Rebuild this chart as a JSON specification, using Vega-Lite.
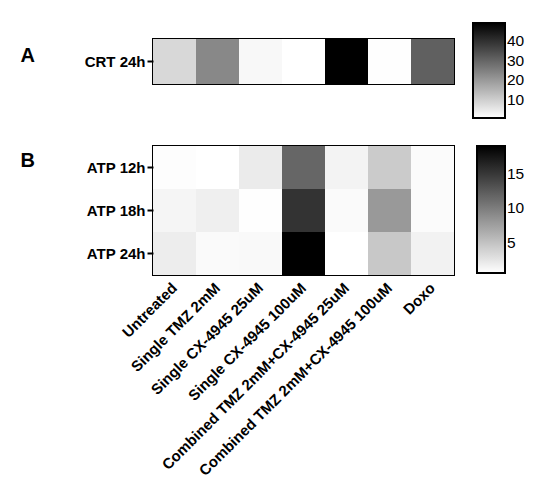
{
  "$schema": "https://vega.github.io/schema/vega-lite/v6.json",
  "padding": {"left": 19, "top": 22, "right": 5, "bottom": 5},
  "background": "white",
  "datasets": {
    "cells": [
      {"panel": "A", "row": "CRT 24h", "treatment": "Untreated", "value": 8.3},
      {"panel": "A", "row": "CRT 24h", "treatment": "Single TMZ 2mM", "value": 23.4},
      {"panel": "A", "row": "CRT 24h", "treatment": "Single CX-4945 25uM", "value": 2.2},
      {"panel": "A", "row": "CRT 24h", "treatment": "Single CX-4945 100uM", "value": 0.9},
      {"panel": "A", "row": "CRT 24h", "treatment": "Combined TMZ 2mM+CX-4945 25uM", "value": 49},
      {"panel": "A", "row": "CRT 24h", "treatment": "Combined TMZ 2mM+CX-4945 100uM", "value": 1.0},
      {"panel": "A", "row": "CRT 24h", "treatment": "Doxo", "value": 30.9},
      {"panel": "B", "row": "ATP 12h", "treatment": "Untreated", "value": 0.7},
      {"panel": "B", "row": "ATP 12h", "treatment": "Single TMZ 2mM", "value": 0.55},
      {"panel": "B", "row": "ATP 12h", "treatment": "Single CX-4945 25uM", "value": 2.0},
      {"panel": "B", "row": "ATP 12h", "treatment": "Single CX-4945 100uM", "value": 11.7},
      {"panel": "B", "row": "ATP 12h", "treatment": "Combined TMZ 2mM+CX-4945 25uM", "value": 1.4},
      {"panel": "B", "row": "ATP 12h", "treatment": "Combined TMZ 2mM+CX-4945 100uM", "value": 4.3},
      {"panel": "B", "row": "ATP 12h", "treatment": "Doxo", "value": 0.85},
      {"panel": "B", "row": "ATP 18h", "treatment": "Untreated", "value": 1.3},
      {"panel": "B", "row": "ATP 18h", "treatment": "Single TMZ 2mM", "value": 1.7},
      {"panel": "B", "row": "ATP 18h", "treatment": "Single CX-4945 25uM", "value": 0.6},
      {"panel": "B", "row": "ATP 18h", "treatment": "Single CX-4945 100uM", "value": 15.4},
      {"panel": "B", "row": "ATP 18h", "treatment": "Combined TMZ 2mM+CX-4945 25uM", "value": 0.9},
      {"panel": "B", "row": "ATP 18h", "treatment": "Combined TMZ 2mM+CX-4945 100uM", "value": 8.0},
      {"panel": "B", "row": "ATP 18h", "treatment": "Doxo", "value": 0.85},
      {"panel": "B", "row": "ATP 24h", "treatment": "Untreated", "value": 1.85},
      {"panel": "B", "row": "ATP 24h", "treatment": "Single TMZ 2mM", "value": 0.9},
      {"panel": "B", "row": "ATP 24h", "treatment": "Single CX-4945 25uM", "value": 1.0},
      {"panel": "B", "row": "ATP 24h", "treatment": "Single CX-4945 100uM", "value": 19.1},
      {"panel": "B", "row": "ATP 24h", "treatment": "Combined TMZ 2mM+CX-4945 25uM", "value": 0.55},
      {"panel": "B", "row": "ATP 24h", "treatment": "Combined TMZ 2mM+CX-4945 100uM", "value": 4.55},
      {"panel": "B", "row": "ATP 24h", "treatment": "Doxo", "value": 1.5}
    ]
  },
  "vconcat": [
    {
      "width": 301,
      "height": 45,
      "data": {"name": "cells"},
      "transform": [{"filter": "datum.panel === 'A'"}],
      "mark": {"type": "rect"},
      "encoding": {
        "x": {
          "field": "treatment", "type": "nominal",
          "sort": ["Untreated", "Single TMZ 2mM", "Single CX-4945 25uM", "Single CX-4945 100uM", "Combined TMZ 2mM+CX-4945 25uM", "Combined TMZ 2mM+CX-4945 100uM", "Doxo"],
          "axis": null
        },
        "y": {
          "field": "row", "type": "nominal",
          "axis": {"title": "A", "titleAngle": 0, "titleX": -133, "titleY": 22, "titleAlign": "left", "titleBaseline": "alphabetic", "titleFontSize": 20}
        },
        "color": {
          "field": "value", "type": "quantitative",
          "scale": {"domain": [0.9, 49], "range": ["#ffffff", "#000000"], "interpolate": "rgb", "zero": false, "nice": false},
          "legend": {"orient": "none", "legendX": 320, "legendY": -16, "gradientLength": 95, "gradientThickness": 32, "values": [10, 20, 30, 40], "title": null}
        }
      }
    },
    {
      "width": 301,
      "height": 129,
      "data": {"name": "cells"},
      "transform": [{"filter": "datum.panel === 'B'"}],
      "mark": {"type": "rect"},
      "encoding": {
        "x": {
          "field": "treatment", "type": "nominal",
          "sort": ["Untreated", "Single TMZ 2mM", "Single CX-4945 25uM", "Single CX-4945 100uM", "Combined TMZ 2mM+CX-4945 25uM", "Combined TMZ 2mM+CX-4945 100uM", "Doxo"],
          "axis": {"title": null, "labelAngle": -45, "labelAlign": "right", "labelBaseline": "middle", "ticks": false, "domain": false, "labelPadding": 10, "labelLimit": 0}
        },
        "y": {
          "field": "row", "type": "nominal",
          "axis": {"title": "B", "titleAngle": 0, "titleX": -133, "titleY": 20, "titleAlign": "left", "titleBaseline": "alphabetic", "titleFontSize": 20}
        },
        "color": {
          "field": "value", "type": "quantitative",
          "scale": {"domain": [0.55, 19.1], "range": ["#ffffff", "#000000"], "interpolate": "rgb", "zero": false, "nice": false},
          "legend": {"orient": "none", "legendX": 324, "legendY": 0, "gradientLength": 127, "gradientThickness": 28, "values": [5, 10, 15], "title": null}
        }
      }
    }
  ],
  "spacing": 62,
  "bounds": "flush",
  "resolve": {"scale": {"color": "independent"}, "legend": {"color": "independent"}},
  "config": {
    "font": "Liberation Sans",
    "view": {"stroke": "black", "strokeWidth": 2},
    "axis": {
      "labelFont": "Liberation Sans", "labelFontSize": 15, "labelFontWeight": "bold", "labelColor": "black",
      "tickColor": "black", "tickWidth": 2, "tickSize": 6, "labelPadding": 2, "domain": false, "grid": false,
      "titleFont": "Liberation Sans", "titleFontWeight": "bold", "titleColor": "black"
    },
    "legend": {
      "labelFont": "Liberation Sans", "labelFontSize": 15.5, "labelColor": "black", "labelOffset": 11,
      "gradientStrokeColor": "black", "gradientStrokeWidth": 2
    }
  }
}
